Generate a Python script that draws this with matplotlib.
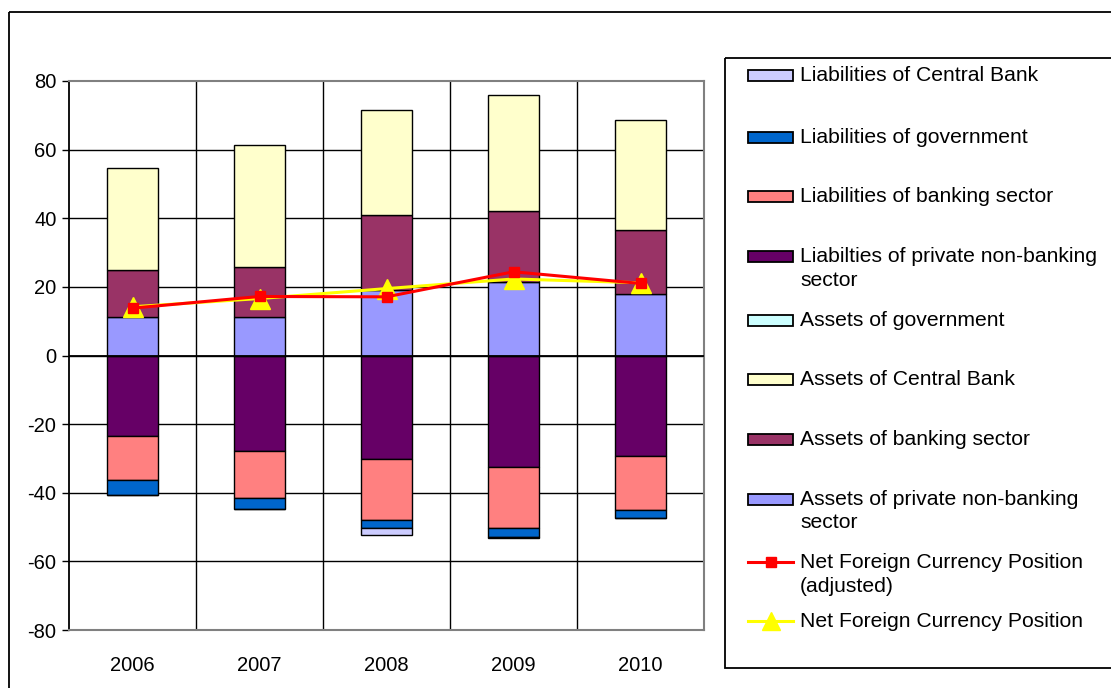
import numpy as np
import matplotlib
matplotlib.use('Agg')
import matplotlib.pyplot as plt
from matplotlib.patches import Rectangle
from matplotlib.lines import Line2D

plt.rcParams['font.family'] = ['Liberation Sans', 'DejaVu Sans']
plt.rcParams['axes.unicode_minus'] = False

years = ['2006', '2007', '2008', '2009', '2010']

# negative side (liabilities), from zero downward
liab_private = [-23.5, -27.7, -30.1, -32.6, -29.2]
liab_banking = [-12.8, -13.9, -17.9, -17.8, -15.8]
liab_government = [-4.4, -3.0, -2.3, -2.5, -2.4]
liab_central_bank = [0.0, 0.0, -2.0, -0.4, 0.0]

# positive side (assets), from zero upward
assets_private = [11.3, 11.3, 19.1, 21.3, 18.0]
assets_banking = [13.5, 14.5, 21.9, 20.7, 18.7]
assets_central_bank = [29.9, 35.6, 30.5, 33.8, 32.0]
assets_government = [0.0, 0.0, 0.0, 0.0, 0.0]

net_adjusted = [13.8, 17.2, 17.1, 24.4, 21.0]
net_position = [14.2, 16.6, 19.5, 22.3, 21.2]

yticks = [-80, -60, -40, -20, 0, 20, 40, 60, 80]

colors = {
    'Liabilities of Central Bank': '#CCCCFF',
    'Liabilities of government': '#0066CC',
    'Liabilities of banking sector': '#FF8080',
    'Liabilties of private non-banking\nsector': '#660066',
    'Assets of government': '#CCFFFF',
    'Assets of Central Bank': '#FFFFCC',
    'Assets of banking sector': '#993366',
    'Assets of private non-banking\nsector': '#9999FF',
}

W, H = 1111, 688
fig = plt.figure(figsize=(W / 100, H / 100), dpi=100)

# overlay in pixel coords for outer frame and legend
ov = fig.add_axes([0, 0, 1, 1])
ov.set_xlim(0, W)
ov.set_ylim(H, 0)
ov.axis('off')
ov.add_patch(Rectangle((9, 12), W + 20, H, fill=False, ec='black', lw=1.3))

ax = fig.add_axes([69 / W, 1 - 630 / H, (704 - 69) / W, (630 - 81) / H])
x = np.arange(len(years))
bw = 0.4
ek = dict(width=bw, edgecolor='black', linewidth=1.0, zorder=3)

neg_stack = [
    ('Liabilties of private non-banking\nsector', liab_private),
    ('Liabilities of banking sector', liab_banking),
    ('Liabilities of government', liab_government),
    ('Liabilities of Central Bank', liab_central_bank),
]
bottom = np.zeros(len(years))
for name, vals in neg_stack:
    v = np.array(vals)
    ax.bar(x, v, bottom=bottom, color=colors[name], **ek)
    bottom = bottom + v

pos_stack = [
    ('Assets of private non-banking\nsector', assets_private),
    ('Assets of banking sector', assets_banking),
    ('Assets of Central Bank', assets_central_bank),
    ('Assets of government', assets_government),
]
bottom = np.zeros(len(years))
for name, vals in pos_stack:
    v = np.array(vals)
    if np.any(v != 0):
        ax.bar(x, v, bottom=bottom, color=colors[name], **ek)
    bottom = bottom + v

ax.plot(x, net_position, color='#FFFF00', lw=2.2, marker='^', ms=15,
        mec='#FFFF00', zorder=5)
ax.plot(x, net_adjusted, color='#FF0000', lw=2.2, marker='s', ms=7,
        mec='#FF0000', zorder=6)

ax.set_xlim(-0.5, len(years) - 0.5)
ax.set_ylim(-80, 80)
ax.set_yticks(yticks)
ax.set_xticks(x)
ax.set_xticklabels(years)
for yv in yticks[1:-1]:
    ax.axhline(yv, color='black', lw=1.0, zorder=1)
for xv in np.arange(0.5, len(years) - 0.5, 1):
    ax.axvline(xv, color='black', lw=1.0, zorder=1)
ax.axhline(0, color='black', lw=1.3, zorder=4)

for s in ['top', 'right', 'bottom']:
    ax.spines[s].set_color('#808080')
    ax.spines[s].set_linewidth(1.5)
ax.spines['left'].set_color('black')
ax.spines['left'].set_linewidth(1.3)
ax.tick_params(axis='y', length=5, width=1.0, labelsize=14.5, pad=4)
ax.tick_params(axis='x', length=0, labelsize=14.5, pad=19)

# legend drawn in pixel coordinates
fs = 15.2
ov.add_patch(Rectangle((725, 58), W, 610, fill=False, ec='black', lw=1.3))
entries = [
    ('Liabilities of Central Bank', 75),
    ('Liabilities of government', 137),
    ('Liabilities of banking sector', 196),
    ('Liabilties of private non-banking\nsector', 256),
    ('Assets of government', 320),
    ('Assets of Central Bank', 379),
    ('Assets of banking sector', 439),
    ('Assets of private non-banking\nsector', 499),
]
for name, yc in entries:
    ov.add_patch(Rectangle((748, yc - 5.5), 45, 11, fc=colors[name],
                           ec='black', lw=1.3))
    ov.text(800, yc - 9, name, fontsize=fs, va='top', ha='left',
            linespacing=1.3)

line_entries = [
    ('Net Foreign Currency Position\n(adjusted)', 562, '#FF0000', 's', 7),
    ('Net Foreign Currency Position', 621, '#FFFF00', '^', 13),
]
for name, yc, c, m, ms in line_entries:
    ov.add_line(Line2D([748, 793], [yc, yc], color=c, lw=2.2))
    ov.plot([770.5], [yc], marker=m, ms=ms, color=c, mec=c)
    ov.text(800, yc - 9, name, fontsize=fs, va='top', ha='left',
            linespacing=1.3)

fig.savefig('out.png', dpi=100)
